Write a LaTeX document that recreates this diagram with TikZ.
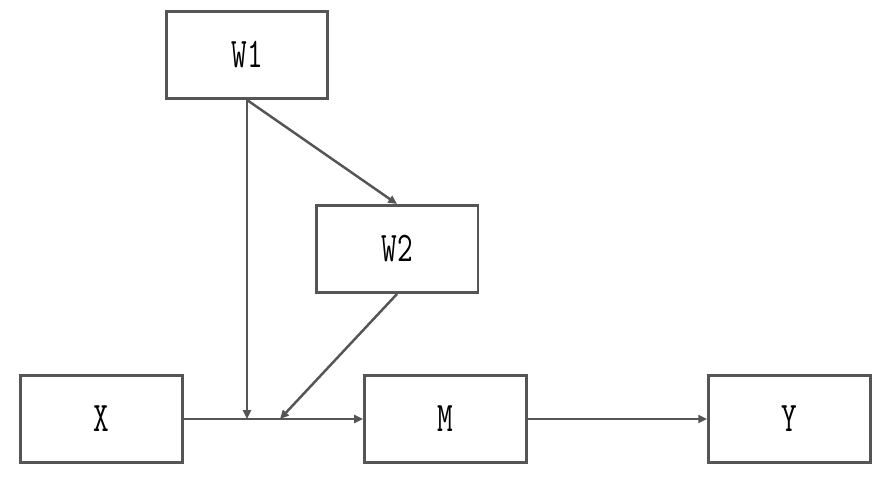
\documentclass[tikz,border=0pt]{standalone}
\usepackage{fontspec}
\newfontfamily\boxfont{Latin Modern Mono}[FakeStretch=0.72]
\usetikzlibrary{arrows.meta}
\definecolor{linegray}{HTML}{555555}
\begin{document}
\begin{tikzpicture}[
        x=0.02cm, y=-0.02cm,
        var/.style={
          draw=linegray,
          line width=1.7pt,
          fill=white,
          minimum width=3.24cm,
          minimum height=1.74cm,
          font=\fontsize{24}{28}\selectfont\boxfont
        },
        link/.style={
          draw=linegray,
          line width=1.4pt,
          -{Triangle[length=5pt,width=4.5pt]}
        }
      ]
      \useasboundingbox (0,0) rectangle (891,477);
      \node[var] (w1) at (247,55) {W1};
      \node[var] (w2) at (397,249) {W2};
      \node[var] (x) at (101.5,419) {X};
      \node[var] (m) at (445.5,419) {M};
      \node[var] (y) at (789.5,419) {Y};

      \coordinate (j1) at (247,419);
      \coordinate (j2) at (280,419);

      \draw[link] (x.east) -- (m.west);
      \draw[link] (m.east) -- (y.west);
      \draw[link] (w1.south) -- (j1);
      \draw[link] (w1.south) -- (w2.north);
      \draw[link] (w2.south) -- (j2);
    \end{tikzpicture}
\end{document}
